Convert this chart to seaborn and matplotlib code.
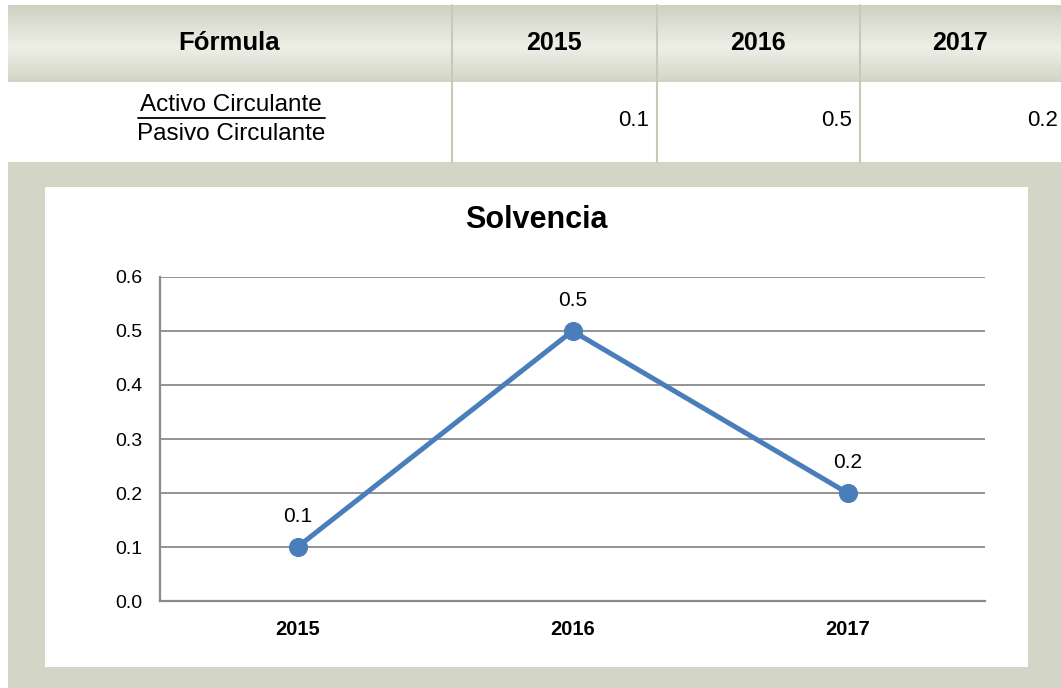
import numpy as np
import matplotlib
matplotlib.use("Agg")
import matplotlib.pyplot as plt
from matplotlib.patches import Rectangle
from matplotlib.colors import to_rgb
import seaborn as sns

# ---- data ----
years = ["2015", "2016", "2017"]
solvencia = [0.1, 0.5, 0.2]
formula_num = "Activo Circulante"
formula_den = "Pasivo Circulante"
header_first = "Fórmula"
chart_title = "Solvencia"
y_ticks = [0.0, 0.1, 0.2, 0.3, 0.4, 0.5, 0.6]

sns.set_theme(style="white")
plt.rcParams["font.family"] = ["Liberation Sans", "DejaVu Sans"]

W, H = 1061, 688
fig = plt.figure(figsize=(W / 100, H / 100), dpi=100)
fig.patch.set_facecolor("white")

# background axes in pixel coordinates
bg = fig.add_axes([0, 0, 1, 1], zorder=0)
bg.set_xlim(0, W)
bg.set_ylim(H, 0)
bg.axis("off")

panel_col = "#d3d6c6"
bg.add_patch(Rectangle((8, 162), W - 8, H - 162, color=panel_col, lw=0))
bg.add_patch(Rectangle((45, 187), 1028 - 45, 667 - 187, color="white", lw=0))

# header gradient
stops = [(0.0, "#cdd1c0"), (0.55, "#eef0e8"), (1.0, "#d2d5c5")]
n = 80
t = np.linspace(0, 1, n)
grad = np.zeros((n, 1, 3))
for c in range(3):
    grad[:, 0, c] = np.interp(t, [s[0] for s in stops], [to_rgb(s[1])[c] for s in stops])
bg.imshow(grad, extent=(8, W, 82, 5), aspect="auto", interpolation="bilinear", zorder=1)

# column borders
for xb in [452, 657, 860]:
    bg.plot([xb, xb], [5, 162], color="#c6cab9", lw=1.5, zorder=2)

# header texts
bg.text(229, 43, header_first, ha="center", va="center", fontsize=18.5, fontweight="bold", color="black", zorder=3)
col_centers = [554, 758, 960]
col_rights = [649, 852, 1058]
for i, yr in enumerate(years):
    bg.text(col_centers[i], 43, yr, ha="center", va="center", fontsize=18, fontweight="bold", color="black", zorder=3)
    bg.text(col_rights[i], 121, f"{solvencia[i]:.1f}", ha="right", va="center", fontsize=16, color="black", zorder=3)

bg.text(231, 105, formula_num, ha="center", va="center", fontsize=17.5, color="black", zorder=3)
bg.plot([138, 325], [118, 118], color="black", lw=1.3, zorder=3)
bg.text(231, 134, formula_den, ha="center", va="center", fontsize=17.5, color="black", zorder=3)

# chart title
bg.text(536, 220, chart_title, ha="center", va="center", fontsize=22, fontweight="bold", color="black", zorder=3)

# ---- chart axes ----
left, right, top, bottom = 160, 985, 277, 601
ax = fig.add_axes([left / W, (H - bottom) / H, (right - left) / W, (bottom - top) / H], zorder=2)
ax.patch.set_alpha(0)

line_col = "#4a7ebb"
grid_col = "#8a8a8a"
for v in y_ticks[1:]:
    ax.axhline(v, color=grid_col, lw=1.3, zorder=0)

sns.lineplot(x=years, y=solvencia, ax=ax, color=line_col, lw=3.6, marker="o",
             markersize=13, markeredgecolor=line_col, markerfacecolor=line_col, zorder=3, sort=False)

ax.set_xlim(-0.5, 2.5)
ax.set_ylim(0, 0.6)
ax.set_yticks(y_ticks)
ax.set_yticklabels([f"{v:.1f}" for v in y_ticks], fontsize=14)
ax.set_xticks(range(len(years)))
ax.set_xticklabels(years, fontsize=14.5, fontweight="bold")
ax.set_xticks([-0.5, 0.5, 1.5, 2.5], minor=True)
ax.tick_params(axis="x", which="major", length=0, pad=14, colors="black")
ax.tick_params(axis="x", which="minor", length=4, width=1.3, color=grid_col, direction="out")
ax.tick_params(axis="y", which="major", length=4.5, width=1.3, color=grid_col, direction="out", pad=8, labelcolor="black")
ax.set_xlabel("")
ax.set_ylabel("")
for s in ["top", "right"]:
    ax.spines[s].set_visible(False)
for s in ["left", "bottom"]:
    ax.spines[s].set_visible(True)
    ax.spines[s].set_color(grid_col)
    ax.spines[s].set_linewidth(1.6)
ax.grid(False)

for i, v in enumerate(solvencia):
    ax.annotate(f"{v:.1f}", (i, v), xytext=(0, 22), textcoords="offset points",
                ha="center", va="center", fontsize=15, color="black")

fig.savefig("out.png", dpi=100, facecolor="white")
